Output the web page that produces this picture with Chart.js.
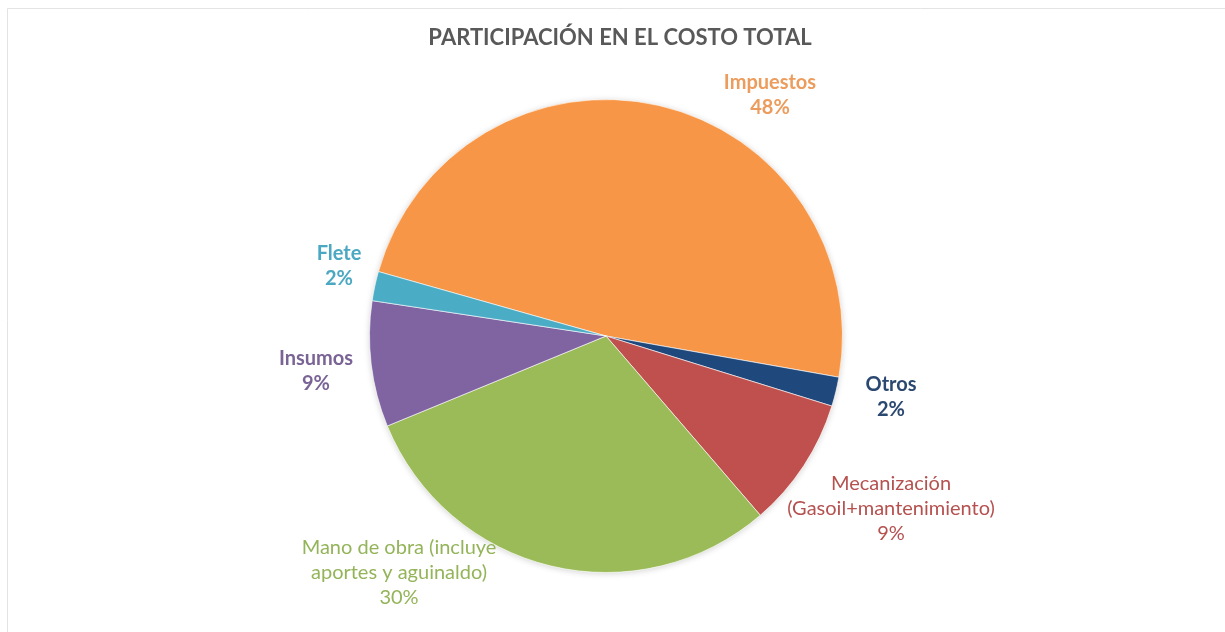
<!DOCTYPE html>
<html>
<head>
<meta charset="utf-8">
<script src="https://cdn.jsdelivr.net/npm/chart.js@4"></script>
<style>
  html, body { margin: 0; padding: 0; background: #ffffff; }
  #wrap { position: relative; width: 1225px; height: 632px; }
</style>
</head>
<body>
<div id="wrap"><canvas id="c" width="1225" height="632"></canvas></div>
<script>
// ---- data ----
const chartTitle = 'PARTICIPACIÓN EN EL COSTO TOTAL';
const categories = ['Impuestos', 'Otros', 'Mecanización (Gasoil+mantenimiento)', 'Mano de obra (incluye aportes y aguinaldo)', 'Insumos', 'Flete'];
const labelLines = [['Impuestos'], ['Otros'], ['Mecanización', '(Gasoil+mantenimiento)'], ['Mano de obra (incluye', 'aportes y aguinaldo)'], ['Insumos'], ['Flete']];
const values = [48.4, 2.0, 8.9, 30.1, 8.6, 2.0];
const sliceColors = ['#F79646', '#1F497D', '#C0504D', '#9BBB59', '#8064A2', '#4BACC6'];
const textColors = ['#EC9C5C', '#2B4870', '#B5514F', '#94B45A', '#7A6496', '#4AA8C2'];
const labelWeights = ['bold', 'bold', 'normal', 'normal', 'bold', 'bold'];
// label block centers
const labelAnchors = [[770, 95], [891, 397], [891, 509], [399, 573], [316, 371], [339, 266]];

const FONT = 'Lato, "Open Sans", sans-serif';

const framePlugin = {
  id: 'frame',
  beforeDraw(chart) {
    const ctx = chart.ctx;
    ctx.save();
    ctx.fillStyle = '#ffffff';
    ctx.fillRect(0, 0, chart.width, chart.height);
    ctx.strokeStyle = '#e3e3e3';
    ctx.lineWidth = 1;
    ctx.beginPath();
    ctx.moveTo(7.5, chart.height);
    ctx.lineTo(7.5, 8.5);
    ctx.lineTo(chart.width, 8.5);
    ctx.stroke();
    ctx.restore();
  },
  beforeDatasetsDraw(chart) {
    const ctx = chart.ctx;
    ctx.save();
    ctx.shadowColor = 'rgba(0,0,0,0.18)';
    ctx.shadowBlur = 6;
    ctx.shadowOffsetX = 0;
    ctx.shadowOffsetY = 1;
    const arc = chart.getDatasetMeta(0).data[0];
    ctx.fillStyle = '#ffffff';
    ctx.beginPath();
    ctx.arc(arc.x, arc.y, arc.outerRadius, 0, Math.PI * 2);
    ctx.fill();
    ctx.restore();
  },
  afterDraw(chart) {
    const ctx = chart.ctx;
    ctx.save();
    ctx.textAlign = 'center';
    ctx.textBaseline = 'middle';
    ctx.fillStyle = '#595959';
    ctx.font = 'bold 22px ' + FONT;
    ctx.fillText(chartTitle, 620, 38);
    const total = values.reduce((a, b) => a + b, 0);
    const lineH = 25;
    labelLines.forEach((lines, i) => {
      const pct = Math.round(values[i] / total * 100) + '%';
      const all = lines.concat([pct]);
      const [cx, cy] = labelAnchors[i];
      ctx.fillStyle = textColors[i];
      ctx.font = labelWeights[i] + ' 20px ' + FONT;
      const y0 = cy - (all.length - 1) * lineH / 2;
      all.forEach((t, k) => ctx.fillText(t, cx, y0 + k * lineH));
    });
    ctx.restore();
  }
};

new Chart(document.getElementById('c'), {
  type: 'pie',
  data: {
    labels: categories,
    datasets: [{
      data: values,
      backgroundColor: sliceColors,
      borderColor: 'rgba(255,255,255,0.6)',
      borderWidth: 1
    }]
  },
  options: {
    responsive: false,
    animation: false,
    rotation: 285.8,
    layout: { padding: { top: 99, bottom: 59, left: 369, right: 382 } },
    plugins: {
      legend: { display: false },
      title: { display: false },
      tooltip: { enabled: false }
    }
  },
  plugins: [framePlugin]
});
</script>
</body>
</html>
